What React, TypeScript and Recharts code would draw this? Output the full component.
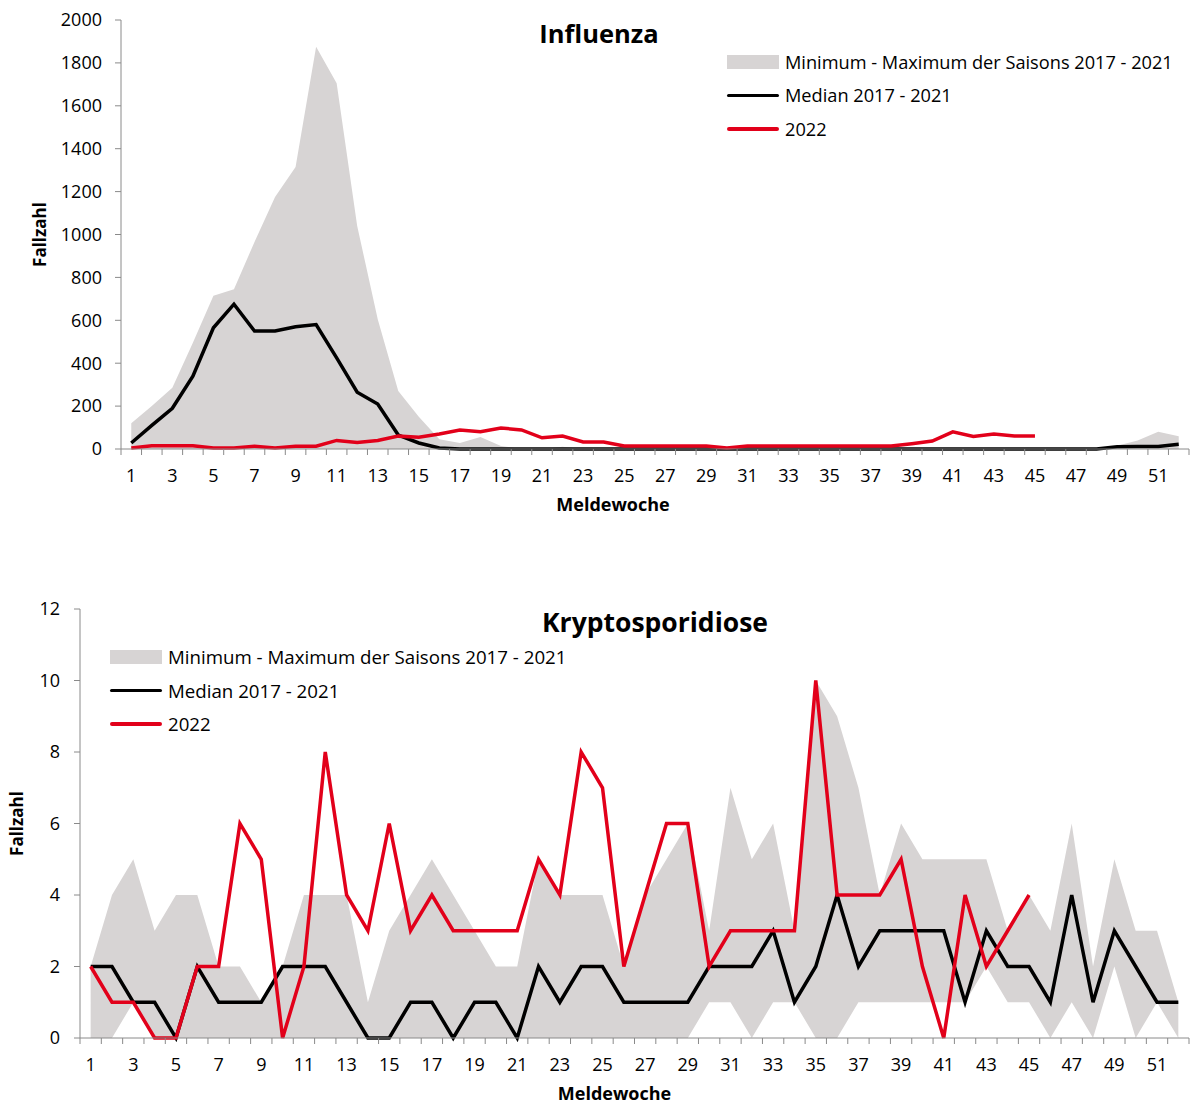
import React from "react"
import { ComposedChart, Area, Line, XAxis, YAxis } from "recharts"

// Meldewochen 1-52
const weeks = Array.from({ length: 52 }, (_, i) => i + 1)
const weekTickBounds = Array.from({ length: 53 }, (_, i) => i + 0.5)

// Influenza
const fluMin = [
  0, 0, 0, 0, 0, 0, 0, 0, 0, 0, 0, 0, 0, 0, 0, 0, 0, 0, 0, 0, 0, 0, 0, 0, 0, 0,
  0, 0, 0, 0, 0, 0, 0, 0, 0, 0, 0, 0, 0, 0, 0, 0, 0, 0, 0, 0, 0, 0, 0, 0, 0, 0,
]
const fluMax = [
  120, 200, 285, 495, 715, 745, 965, 1175, 1315, 1875, 1705, 1040, 605, 270, 150, 45, 28, 56, 14, 0, 0, 10, 0, 0, 0, 0,
  0, 0, 0, 0, 0, 0, 0, 0, 0, 0, 0, 0, 0, 0, 0, 0, 0, 0, 0, 0, 0, 0, 15, 40, 80, 60,
]
const fluMedian = [
  28, 110, 190, 340, 565, 675, 550, 550, 570, 580, 425, 265, 210, 65, 28, 5, 0, 0, 0, 0, 0, 0, 0, 0, 0, 0,
  0, 0, 0, 0, 0, 0, 0, 0, 0, 0, 0, 0, 0, 0, 0, 0, 0, 0, 0, 0, 0, 0, 10, 12, 12, 22,
]
const flu2022 = [
  5, 15, 15, 15, 5, 5, 13, 5, 13, 13, 40, 30, 40, 60, 55, 70, 89, 80, 98, 89, 52, 60, 33, 33, 14, 14,
  14, 14, 14, 5, 14, 14, 14, 14, 14, 14, 14, 14, 25, 37, 80, 58, 70, 61, 61,
]
const fluTicks = [0, 200, 400, 600, 800, 1000, 1200, 1400, 1600, 1800, 2000]

// Kryptosporidiose
const kryptoMin = [
  0, 0, 1, 0, 0, 0, 0, 0, 0, 0, 0, 0, 0, 0, 0, 0, 0, 0, 0, 0, 0, 0, 0, 0, 0, 0,
  0, 0, 0, 1, 1, 0, 1, 1, 0, 0, 1, 1, 1, 1, 1, 1, 2, 1, 1, 0, 1, 0, 2, 0, 1, 0,
]
const kryptoMax = [
  2, 4, 5, 3, 4, 4, 2, 2, 1, 2, 4, 4, 4, 1, 3, 4, 5, 4, 3, 2, 2, 5, 4, 4, 4, 2,
  4, 5, 6, 3, 7, 5, 6, 3, 10, 9, 7, 4, 6, 5, 5, 5, 5, 3, 4, 3, 6, 2, 5, 3, 3, 1,
]
const kryptoMedian = [
  2, 2, 1, 1, 0, 2, 1, 1, 1, 2, 2, 2, 1, 0, 0, 1, 1, 0, 1, 1, 0, 2, 1, 2, 2, 1,
  1, 1, 1, 2, 2, 2, 3, 1, 2, 4, 2, 3, 3, 3, 3, 1, 3, 2, 2, 1, 4, 1, 3, 2, 1, 1,
]
const krypto2022 = [
  2, 1, 1, 0, 0, 2, 2, 6, 5, 0, 2, 8, 4, 3, 6, 3, 4, 3, 3, 3, 3, 5, 4, 8, 7, 2,
  4, 6, 6, 2, 3, 3, 3, 3, 10, 4, 4, 4, 5, 2, 0, 4, 2, 3, 4,
]
const kryptoTicks = [0, 2, 4, 6, 8, 10, 12]

const legendLabels = ["Minimum - Maximum der Saisons 2017 - 2021", "Median 2017 - 2021", "2022"]

const FONT = "'Open Sans', sans-serif"
const BAND = "#d7d4d4"
const RED = "#e2001a"
const AXIS = "#8a8a8a"

function buildRows(min: number[], max: number[], median: number[], current: number[]) {
  return weeks.map((w, i) => ({
    week: w,
    range: [min[i], max[i]],
    median: median[i],
    current: i < current.length ? current[i] : null,
  }))
}

function WeekTick(props: any) {
  const { x, y, payload, band } = props
  const week = payload.value + 0.5
  if (week > 52 || week % 2 === 0) return null
  return (
    <text x={x + band / 2} y={y} dy="0.71em" textAnchor="middle" fill="#000" fontSize={18} fontFamily={FONT}>
      {week}
    </text>
  )
}

function ChartLegend({ left, top, fontSize }: { left: number; top: number; fontSize: number }) {
  return (
    <div style={{ position: "absolute", left, top, fontFamily: FONT, fontSize, color: "#000" }}>
      {legendLabels.map((label, i) => (
        <div key={label} style={{ display: "flex", alignItems: "center", height: 33.5 }}>
          <div style={{ width: 52, height: 16, marginRight: 6, display: "flex", alignItems: "center" }}>
            {i === 0 ? (
              <div style={{ width: 52, height: 14, background: BAND }} />
            ) : (
              <div style={{ width: 52, height: 3.5, background: i === 1 ? "#000" : RED, borderRadius: 2 }} />
            )}
          </div>
          <span style={{ whiteSpace: "nowrap" }}>{label}</span>
        </div>
      ))}
    </div>
  )
}

type PanelProps = {
  title: string
  top: number
  height: number
  rows: any[]
  yMax: number
  yTicks: number[]
  yAxisWidth: number
  plotTop: number
  tickMargin: number
  labelX: number
  xLabelDx: number
  titleCenter: number
  titleY: number
  titleSize: number
  legendLeft: number
  legendTop: number
  legendSize: number
}

function Panel(p: PanelProps) {
  const width = 1190
  const right = 1
  const band = (width - right - p.yAxisWidth) / 52
  const plotHeight = 429
  const xAxisHeight = 62
  const bottom = p.height - p.plotTop - plotHeight - xAxisHeight
  return (
    <div style={{ position: "absolute", left: 0, top: p.top, width, height: p.height }}>
      <ComposedChart
        width={width}
        height={p.height}
        data={p.rows}
        margin={{ top: p.plotTop, right, left: 0, bottom }}
      >
        <XAxis
          dataKey="week"
          type="number"
          domain={[0.5, 52.5]}
          ticks={weekTickBounds}
          interval={0}
          allowDataOverflow
          height={xAxisHeight}
          stroke={AXIS}
          tickSize={6}
          tickMargin={14}
          tick={<WeekTick band={band} />}
          label={{
            value: "Meldewoche",
            position: "insideBottom",
            offset: 0,
            dx: p.xLabelDx,
            style: { fontFamily: FONT, fontWeight: 700, fontSize: 18, fill: "#000" },
          }}
        />
        <YAxis
          type="number"
          domain={[0, p.yMax]}
          ticks={p.yTicks}
          interval={0}
          width={p.yAxisWidth}
          stroke={AXIS}
          tickSize={6}
          tickMargin={p.tickMargin}
          tick={{ fill: "#000", fontSize: 18, fontFamily: FONT }}
          label={{
            value: "Fallzahl",
            angle: -90,
            position: "insideLeft",
            offset: p.labelX,
            style: { fontFamily: FONT, fontWeight: 700, fontSize: 17, fill: "#000", textAnchor: "middle" },
          }}
        />
        <Area
          type="linear"
          dataKey="range"
          name="Minimum - Maximum der Saisons 2017 - 2021"
          stroke="none"
          fill={BAND}
          fillOpacity={1}
          isAnimationActive={false}
          activeDot={false}
        />
        <Line
          type="linear"
          dataKey="median"
          name="Median 2017 - 2021"
          stroke="#000"
          strokeWidth={3.5}
          dot={false}
          isAnimationActive={false}
        />
        <Line
          type="linear"
          dataKey="current"
          name="2022"
          stroke={RED}
          strokeWidth={3.5}
          dot={false}
          isAnimationActive={false}
        />
      </ComposedChart>
      <div
        style={{
          position: "absolute",
          left: p.titleCenter - 200,
          width: 400,
          top: p.titleY - 17,
          lineHeight: "34px",
          textAlign: "center",
          fontFamily: FONT,
          fontWeight: 700,
          fontSize: p.titleSize,
          color: "#000",
        }}
      >
        {p.title}
      </div>
      <ChartLegend left={p.legendLeft} top={p.legendTop} fontSize={p.legendSize} />
    </div>
  )
}

export default function App() {
  const fluRows = buildRows(fluMin, fluMax, fluMedian, flu2022)
  const kryptoRows = buildRows(kryptoMin, kryptoMax, kryptoMedian, krypto2022)
  return (
    <div style={{ position: "absolute", left: 0, top: 0, width: 1190, height: 1107, background: "#fff" }}>
      <Panel
        title="Influenza"
        top={0}
        height={560}
        rows={fluRows}
        yMax={2000}
        yTicks={fluTicks}
        yAxisWidth={121}
        plotTop={20}
        tickMargin={13}
        labelX={40}
        xLabelDx={-42}
        titleCenter={599}
        titleY={33}
        titleSize={25.5}
        legendLeft={727}
        legendTop={45}
        legendSize={18.2}
      />
      <Panel
        title="Kryptosporidiose"
        top={560}
        height={547}
        rows={kryptoRows}
        yMax={12}
        yTicks={kryptoTicks}
        yAxisWidth={80}
        plotTop={49}
        tickMargin={14}
        labelX={17}
        xLabelDx={-20}
        titleCenter={655}
        titleY={62}
        titleSize={26.5}
        legendLeft={110}
        legendTop={80}
        legendSize={18.7}
      />
    </div>
  )
}
